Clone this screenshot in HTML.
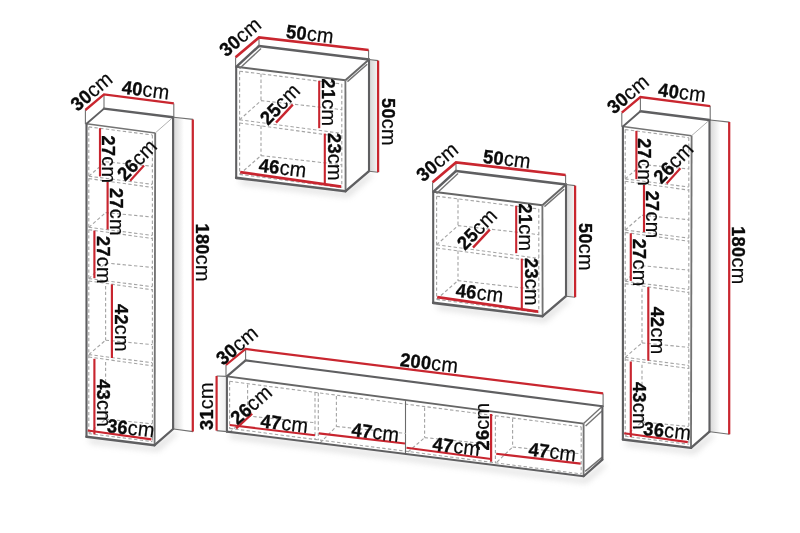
<!DOCTYPE html>
<html lang="en">
<head>
<meta charset="utf-8">
<title>Dimensions</title>
<style>
html,body{margin:0;padding:0;background:#fff;}
body{width:800px;height:533px;overflow:hidden;}
svg{display:block;will-change:transform;}
svg path{fill:none;}
.dk{stroke:#5f5f61;stroke-linecap:round;}
.md{stroke:#747474;stroke-width:1.4;}
.tn{stroke:#707070;stroke-width:1.1;}
.dv{stroke:#6a6a6a;stroke-width:1.1;}
.m2{stroke:#737373;stroke-width:1.85;}
.m3{stroke:#666666;stroke-width:1.9;}
.tn2{stroke:#a8a8a8;stroke-width:0.9;}
.ds{stroke:#a4a4a4;stroke-width:1.1;stroke-dasharray:3.4 2.3;}
.rd{stroke:#c9262f;stroke-linecap:butt;}
.ri{stroke:#c8252f;}
text{font-family:"Liberation Sans","DejaVu Sans",sans-serif;fill:#0a0a0a;letter-spacing:0.3px;}
.b{font-weight:bold;stroke:#0a0a0a;stroke-width:0.35;}
.r{font-weight:normal;stroke:#0a0a0a;stroke-width:0.2;}
</style>
</head>
<body>
<svg width="800" height="533" viewBox="0 0 800 533">
<rect width="800" height="533" fill="#ffffff"/>
<defs>
<filter id="blur" x="-20%" y="-50%" width="140%" height="200%"><feGaussianBlur stdDeviation="3"/></filter>
<linearGradient id="gsA" gradientUnits="userSpaceOnUse" x1="174.0" y1="0" x2="184.0" y2="0"><stop offset="0" stop-color="#d9d9d9"/><stop offset="1" stop-color="#ffffff"/></linearGradient>
<linearGradient id="gsB" gradientUnits="userSpaceOnUse" x1="710.4" y1="0" x2="720.4" y2="0"><stop offset="0" stop-color="#d9d9d9"/><stop offset="1" stop-color="#ffffff"/></linearGradient>
<linearGradient id="gpA" gradientUnits="userSpaceOnUse" x1="155.0" y1="0" x2="174.0" y2="0"><stop offset="0" stop-color="#ffffff"/><stop offset="1" stop-color="#ffffff"/></linearGradient>
<linearGradient id="gpB" gradientUnits="userSpaceOnUse" x1="691.4" y1="0" x2="710.4" y2="0"><stop offset="0" stop-color="#ffffff"/><stop offset="1" stop-color="#ffffff"/></linearGradient>
<linearGradient id="gqA" gradientUnits="userSpaceOnUse" x1="369.0" y1="0" x2="378.0" y2="0"><stop offset="0" stop-color="#d6d6d6"/><stop offset="1" stop-color="#f4f4f4"/></linearGradient>
<linearGradient id="gqB" gradientUnits="userSpaceOnUse" x1="566.0" y1="0" x2="575.0" y2="0"><stop offset="0" stop-color="#d6d6d6"/><stop offset="1" stop-color="#f4f4f4"/></linearGradient>
<linearGradient id="gt" gradientUnits="userSpaceOnUse" x1="216.6" y1="0" x2="227.0" y2="0"><stop offset="0" stop-color="#ffffff"/><stop offset="1" stop-color="#eeeeee"/></linearGradient>
</defs>
<g>
<polygon fill="url(#gsA)" points="173.60,117.30 193.00,119.40 193.00,431.60 173.60,429.00"/>
<polygon fill="#9a9a9a" opacity="0.34" filter="url(#blur)" points="88.00,438.00 154.60,446.50 174.00,431.00 178.00,433.00 158.00,451.00 90.00,443.00"/>
<polygon fill="#fff" points="86.50,123.80 104.00,108.60 173.10,117.30 173.10,429.00 154.60,445.20 86.50,436.80"/>
<polygon fill="url(#gpA)" points="155.20,133.00 173.10,117.30 173.10,429.00 154.60,445.20"/>
<path class="ds" d="M88.80 126.90 L152.40 135.00"/>
<path class="ds" d="M88.80 126.90 L88.80 433.40"/>
<path class="ds" d="M152.40 135.00 L152.40 441.40"/>
<path class="ds" d="M88.80 433.60 L152.40 441.60"/>
<path class="ds" d="M88.80 176.20 L152.40 184.34"/>
<path class="ds" d="M88.80 178.60 L152.40 187.44"/>
<path class="ds" d="M105.60 161.80 L152.40 166.25"/>
<path class="ds" d="M88.80 176.20 L105.60 161.80"/>
<path class="ds" d="M88.80 227.30 L152.40 235.44"/>
<path class="ds" d="M88.80 229.70 L152.40 238.54"/>
<path class="ds" d="M105.60 212.60 L152.40 217.05"/>
<path class="ds" d="M88.80 227.30 L105.60 212.60"/>
<path class="ds" d="M88.80 278.60 L152.40 286.74"/>
<path class="ds" d="M88.80 281.00 L152.40 289.84"/>
<path class="ds" d="M105.60 263.00 L152.40 267.45"/>
<path class="ds" d="M88.80 278.60 L105.60 263.00"/>
<path class="ds" d="M88.80 354.60 L152.40 362.74"/>
<path class="ds" d="M88.80 357.00 L152.40 365.84"/>
<path class="ds" d="M105.60 340.20 L152.40 344.65"/>
<path class="ds" d="M88.80 354.60 L105.60 340.20"/>
<path class="ds" d="M105.60 419.20 L152.40 423.80"/>
<path class="ds" d="M88.80 433.40 L105.60 419.20"/>
<path class="ds" d="M105.60 286.00 L105.60 340.00"/>
<path class="ds" d="M105.60 362.00 L105.60 419.00"/>
<path class="md" d="M86.50 123.80 L155.20 133.00"/>
<path class="tn2" d="M155.20 133.00 L173.10 117.30"/>
<path class="m2" d="M155.20 133.00 L154.60 445.20"/>
<path class="dk" stroke-width="2.15" d="M86.50 123.80 L86.50 436.80"/>
<path class="dk" stroke-width="2.40" d="M86.50 436.80 L154.60 445.20"/>
<path class="dk" stroke-width="2.29" d="M154.60 445.20 L173.10 429.00"/>
<path class="dk" stroke-width="1.90" d="M86.50 123.80 L104.00 108.60"/>
<path class="dk" stroke-width="2.40" d="M104.00 108.60 L173.10 117.30"/>
<path class="dk" stroke-width="2.15" d="M173.10 117.30 L173.10 429.00"/>
<path class="tn" d="M85.40 110.00 L85.40 124.00"/>
<path class="tn" d="M104.00 94.40 L104.00 108.60"/>
<path class="tn" d="M173.80 103.40 L173.80 117.30"/>
<path class="tn" d="M173.60 117.30 L193.10 119.40"/>
<path class="tn" d="M173.60 429.00 L193.10 431.60"/>
<path class="rd" stroke-width="2.40" stroke-linejoin="miter" d="M85.40 110.00 L104.00 94.40 L173.80 103.40"/>
<path class="rd" stroke-width="2.25" d="M192.80 119.40 L192.80 431.60"/>
<path class="ri" stroke-width="2.15" d="M100.00 128.20 L100.00 176.40"/>
<path class="ri" stroke-width="2.13" d="M130.20 180.80 L144.00 165.50"/>
<path class="ri" stroke-width="2.15" d="M107.60 182.00 L107.60 229.40"/>
<path class="ri" stroke-width="2.15" d="M94.40 230.60 L94.40 278.20"/>
<path class="ri" stroke-width="2.15" d="M111.90 284.40 L111.90 358.00"/>
<path class="ri" stroke-width="2.15" d="M94.40 358.80 L94.40 434.40"/>
<path class="ri" stroke-width="2.10" d="M87.80 430.50 L151.40 439.40"/>
<text transform="translate(77.50 112.00) rotate(-40.00) scale(1 1.050)" font-size="18.20"><tspan class="b">30</tspan><tspan class="r" font-size="19.84">cm</tspan></text>
<text transform="translate(121.20 93.40) rotate(7.40) scale(1 1.050)" font-size="18.20"><tspan class="b">40</tspan><tspan class="r" font-size="19.84">cm</tspan></text>
<text transform="translate(195.80 223.50) rotate(90.00) scale(1 1.050)" font-size="18.20"><tspan class="b">180</tspan><tspan class="r" font-size="19.84">cm</tspan></text>
<text transform="translate(102.00 135.50) rotate(90.00) scale(1 1.050)" font-size="18.20"><tspan class="b">27</tspan><tspan class="r" font-size="19.84">cm</tspan></text>
<text transform="translate(125.20 181.80) rotate(-46.00) scale(1 1.050)" font-size="18.20"><tspan class="b">26</tspan><tspan class="r" font-size="19.84">cm</tspan></text>
<text transform="translate(110.00 188.00) rotate(90.00) scale(1 1.050)" font-size="18.20"><tspan class="b">27</tspan><tspan class="r" font-size="19.84">cm</tspan></text>
<text transform="translate(96.50 236.00) rotate(90.00) scale(1 1.050)" font-size="18.20"><tspan class="b">27</tspan><tspan class="r" font-size="19.84">cm</tspan></text>
<text transform="translate(114.50 304.00) rotate(90.00) scale(1 1.050)" font-size="18.20"><tspan class="b">42</tspan><tspan class="r" font-size="19.84">cm</tspan></text>
<text transform="translate(96.50 379.20) rotate(90.00) scale(1 1.050)" font-size="18.20"><tspan class="b">43</tspan><tspan class="r" font-size="19.84">cm</tspan></text>
<text transform="translate(106.40 432.00) rotate(6.60) scale(1 1.050)" font-size="18.20"><tspan class="b">36</tspan><tspan class="r" font-size="19.84">cm</tspan></text>
<polygon fill="url(#gsB)" points="710.00,120.00 729.40,122.10 729.40,434.30 710.00,431.70"/>
<polygon fill="#9a9a9a" opacity="0.34" filter="url(#blur)" points="624.40,440.70 691.00,449.20 710.40,433.70 714.40,435.70 694.40,453.70 626.40,445.70"/>
<polygon fill="#fff" points="622.90,126.50 640.40,111.30 709.50,120.00 709.50,431.70 691.00,447.90 622.90,439.50"/>
<polygon fill="url(#gpB)" points="691.60,135.70 709.50,120.00 709.50,431.70 691.00,447.90"/>
<path class="ds" d="M625.20 129.60 L688.80 137.70"/>
<path class="ds" d="M625.20 129.60 L625.20 436.10"/>
<path class="ds" d="M688.80 137.70 L688.80 444.10"/>
<path class="ds" d="M625.20 436.30 L688.80 444.30"/>
<path class="ds" d="M625.20 178.90 L688.80 187.04"/>
<path class="ds" d="M625.20 181.30 L688.80 190.14"/>
<path class="ds" d="M642.00 164.50 L688.80 168.95"/>
<path class="ds" d="M625.20 178.90 L642.00 164.50"/>
<path class="ds" d="M625.20 230.00 L688.80 238.14"/>
<path class="ds" d="M625.20 232.40 L688.80 241.24"/>
<path class="ds" d="M642.00 215.30 L688.80 219.75"/>
<path class="ds" d="M625.20 230.00 L642.00 215.30"/>
<path class="ds" d="M625.20 281.30 L688.80 289.44"/>
<path class="ds" d="M625.20 283.70 L688.80 292.54"/>
<path class="ds" d="M642.00 265.70 L688.80 270.15"/>
<path class="ds" d="M625.20 281.30 L642.00 265.70"/>
<path class="ds" d="M625.20 357.30 L688.80 365.44"/>
<path class="ds" d="M625.20 359.70 L688.80 368.54"/>
<path class="ds" d="M642.00 342.90 L688.80 347.35"/>
<path class="ds" d="M625.20 357.30 L642.00 342.90"/>
<path class="ds" d="M642.00 421.90 L688.80 426.50"/>
<path class="ds" d="M625.20 436.10 L642.00 421.90"/>
<path class="ds" d="M642.00 288.70 L642.00 342.70"/>
<path class="ds" d="M642.00 364.70 L642.00 421.70"/>
<path class="md" d="M622.90 126.50 L691.60 135.70"/>
<path class="tn2" d="M691.60 135.70 L709.50 120.00"/>
<path class="m2" d="M691.60 135.70 L691.00 447.90"/>
<path class="dk" stroke-width="2.15" d="M622.90 126.50 L622.90 439.50"/>
<path class="dk" stroke-width="2.40" d="M622.90 439.50 L691.00 447.90"/>
<path class="dk" stroke-width="2.29" d="M691.00 447.90 L709.50 431.70"/>
<path class="dk" stroke-width="1.90" d="M622.90 126.50 L640.40 111.30"/>
<path class="dk" stroke-width="2.40" d="M640.40 111.30 L709.50 120.00"/>
<path class="dk" stroke-width="2.15" d="M709.50 120.00 L709.50 431.70"/>
<path class="tn" d="M621.80 112.70 L621.80 126.70"/>
<path class="tn" d="M640.40 97.10 L640.40 111.30"/>
<path class="tn" d="M710.20 106.10 L710.20 120.00"/>
<path class="tn" d="M710.00 120.00 L729.50 122.10"/>
<path class="tn" d="M710.00 431.70 L729.50 434.30"/>
<path class="rd" stroke-width="2.40" stroke-linejoin="miter" d="M621.80 112.70 L640.40 97.10 L710.20 106.10"/>
<path class="rd" stroke-width="2.25" d="M729.20 122.10 L729.20 434.30"/>
<path class="ri" stroke-width="2.15" d="M636.40 130.90 L636.40 179.10"/>
<path class="ri" stroke-width="2.13" d="M666.60 183.50 L680.40 168.20"/>
<path class="ri" stroke-width="2.15" d="M644.00 184.70 L644.00 232.10"/>
<path class="ri" stroke-width="2.15" d="M630.80 233.30 L630.80 280.90"/>
<path class="ri" stroke-width="2.15" d="M648.30 287.10 L648.30 360.70"/>
<path class="ri" stroke-width="2.15" d="M630.80 361.50 L630.80 437.10"/>
<path class="ri" stroke-width="2.10" d="M624.20 433.20 L687.80 442.10"/>
<text transform="translate(613.90 114.70) rotate(-40.00) scale(1 1.050)" font-size="18.20"><tspan class="b">30</tspan><tspan class="r" font-size="19.84">cm</tspan></text>
<text transform="translate(657.60 96.10) rotate(7.40) scale(1 1.050)" font-size="18.20"><tspan class="b">40</tspan><tspan class="r" font-size="19.84">cm</tspan></text>
<text transform="translate(732.20 226.20) rotate(90.00) scale(1 1.050)" font-size="18.20"><tspan class="b">180</tspan><tspan class="r" font-size="19.84">cm</tspan></text>
<text transform="translate(638.40 138.20) rotate(90.00) scale(1 1.050)" font-size="18.20"><tspan class="b">27</tspan><tspan class="r" font-size="19.84">cm</tspan></text>
<text transform="translate(661.60 184.50) rotate(-46.00) scale(1 1.050)" font-size="18.20"><tspan class="b">26</tspan><tspan class="r" font-size="19.84">cm</tspan></text>
<text transform="translate(646.40 190.70) rotate(90.00) scale(1 1.050)" font-size="18.20"><tspan class="b">27</tspan><tspan class="r" font-size="19.84">cm</tspan></text>
<text transform="translate(632.90 238.70) rotate(90.00) scale(1 1.050)" font-size="18.20"><tspan class="b">27</tspan><tspan class="r" font-size="19.84">cm</tspan></text>
<text transform="translate(650.90 306.70) rotate(90.00) scale(1 1.050)" font-size="18.20"><tspan class="b">42</tspan><tspan class="r" font-size="19.84">cm</tspan></text>
<text transform="translate(632.90 381.90) rotate(90.00) scale(1 1.050)" font-size="18.20"><tspan class="b">43</tspan><tspan class="r" font-size="19.84">cm</tspan></text>
<text transform="translate(642.80 434.70) rotate(6.60) scale(1 1.050)" font-size="18.20"><tspan class="b">36</tspan><tspan class="r" font-size="19.84">cm</tspan></text>
<polygon fill="url(#gqA)" points="368.60,59.50 377.50,60.60 377.50,172.00 368.60,171.20"/>
<polygon fill="#9a9a9a" opacity="0.34" filter="url(#blur)" points="239.00,179.00 345.00,192.00 369.00,173.00 373.00,175.00 348.00,197.00 241.00,184.00"/>
<polygon fill="#fff" points="236.20,66.80 259.00,46.00 369.00,59.50 369.00,171.20 345.60,191.20 236.20,177.90"/>
<path class="ds" d="M239.60 71.20 L341.80 84.00"/>
<path class="ds" d="M239.60 71.20 L239.60 174.20"/>
<path class="ds" d="M341.80 84.00 L341.80 187.40"/>
<path class="ds" d="M239.60 174.40 L341.80 187.60"/>
<path class="ds" d="M261.00 73.80 L261.00 100.60"/>
<path class="ds" d="M261.00 125.60 L261.00 156.00"/>
<path class="ds" d="M239.60 119.80 L341.80 133.40"/>
<path class="ds" d="M239.60 123.00 L341.80 136.80"/>
<path class="ds" d="M261.00 100.60 L341.80 109.60"/>
<path class="ds" d="M239.60 119.80 L261.00 100.60"/>
<path class="ds" d="M261.00 155.60 L341.80 164.80"/>
<path class="ds" d="M239.60 174.20 L261.00 155.60"/>
<path class="m3" d="M236.20 66.80 L345.40 80.20"/>
<path class="md" d="M239.50 68.60 L261.00 48.60"/>
<path class="m3" d="M345.40 80.20 L369.00 59.50"/>
<path class="md" d="M347.40 81.60 L367.20 64.20"/>
<path class="m2" d="M345.40 80.20 L345.60 191.20"/>
<path class="dk" stroke-width="2.10" d="M236.20 66.80 L236.20 177.90"/>
<path class="dk" stroke-width="2.59" d="M236.20 177.90 L345.60 191.20"/>
<path class="dk" stroke-width="2.40" d="M345.60 191.20 L369.00 171.20"/>
<path class="dk" stroke-width="2.39" d="M236.20 66.80 L259.00 46.00"/>
<path class="dk" stroke-width="2.59" d="M259.00 46.00 L369.00 59.50"/>
<path class="dk" stroke-width="2.10" d="M369.00 59.50 L369.00 171.20"/>
<path class="tn" d="M235.60 57.20 L235.60 66.60"/>
<path class="tn" d="M259.00 37.50 L259.00 46.00"/>
<path class="tn" d="M368.60 50.00 L368.60 59.50"/>
<path class="tn" d="M369.00 59.50 L378.10 60.60"/>
<path class="tn" d="M369.00 171.20 L378.10 172.20"/>
<path class="rd" stroke-width="2.70" stroke-linejoin="miter" d="M235.60 57.20 L259.00 37.50 L368.60 50.00"/>
<path class="rd" stroke-width="2.25" d="M378.10 60.60 L378.10 172.20"/>
<path class="ri" stroke-width="2.10" d="M319.20 80.80 L319.20 128.20"/>
<path class="ri" stroke-width="2.10" d="M324.80 133.60 L324.80 184.20"/>
<path class="ri" stroke-width="2.40" d="M276.00 122.60 L292.80 104.60"/>
<path class="ri" stroke-width="2.69" d="M240.20 172.20 L341.20 186.60"/>
<text transform="translate(226.20 57.40) rotate(-40.00) scale(1 1.050)" font-size="18.20"><tspan class="b">30</tspan><tspan class="r" font-size="19.84">cm</tspan></text>
<text transform="translate(285.50 37.80) rotate(7.00) scale(1 1.050)" font-size="18.20"><tspan class="b">50</tspan><tspan class="r" font-size="19.84">cm</tspan></text>
<text transform="translate(381.80 98.00) rotate(90.00) scale(1 1.050)" font-size="18.20"><tspan class="b">50</tspan><tspan class="r" font-size="19.84">cm</tspan></text>
<text transform="translate(322.00 78.50) rotate(90.00) scale(1 1.050)" font-size="18.20"><tspan class="b">21</tspan><tspan class="r" font-size="19.84">cm</tspan></text>
<text transform="translate(327.80 133.00) rotate(90.00) scale(1 1.050)" font-size="18.20"><tspan class="b">23</tspan><tspan class="r" font-size="19.84">cm</tspan></text>
<text transform="translate(268.00 126.00) rotate(-45.50) scale(1 1.050)" font-size="18.20"><tspan class="b">25</tspan><tspan class="r" font-size="19.84">cm</tspan></text>
<text transform="translate(258.20 171.60) rotate(7.00) scale(1 1.050)" font-size="18.20"><tspan class="b">46</tspan><tspan class="r" font-size="19.84">cm</tspan></text>
<polygon fill="url(#gqB)" points="565.60,184.50 574.50,185.60 574.50,297.00 565.60,296.20"/>
<polygon fill="#9a9a9a" opacity="0.34" filter="url(#blur)" points="436.00,304.00 542.00,317.00 566.00,298.00 570.00,300.00 545.00,322.00 438.00,309.00"/>
<polygon fill="#fff" points="433.20,191.80 456.00,171.00 566.00,184.50 566.00,296.20 542.60,316.20 433.20,302.90"/>
<path class="ds" d="M436.60 196.20 L538.80 209.00"/>
<path class="ds" d="M436.60 196.20 L436.60 299.20"/>
<path class="ds" d="M538.80 209.00 L538.80 312.40"/>
<path class="ds" d="M436.60 299.40 L538.80 312.60"/>
<path class="ds" d="M458.00 198.80 L458.00 225.60"/>
<path class="ds" d="M458.00 250.60 L458.00 281.00"/>
<path class="ds" d="M436.60 244.80 L538.80 258.40"/>
<path class="ds" d="M436.60 248.00 L538.80 261.80"/>
<path class="ds" d="M458.00 225.60 L538.80 234.60"/>
<path class="ds" d="M436.60 244.80 L458.00 225.60"/>
<path class="ds" d="M458.00 280.60 L538.80 289.80"/>
<path class="ds" d="M436.60 299.20 L458.00 280.60"/>
<path class="m3" d="M433.20 191.80 L542.40 205.20"/>
<path class="md" d="M436.50 193.60 L458.00 173.60"/>
<path class="m3" d="M542.40 205.20 L566.00 184.50"/>
<path class="md" d="M544.40 206.60 L564.20 189.20"/>
<path class="m2" d="M542.40 205.20 L542.60 316.20"/>
<path class="dk" stroke-width="2.10" d="M433.20 191.80 L433.20 302.90"/>
<path class="dk" stroke-width="2.59" d="M433.20 302.90 L542.60 316.20"/>
<path class="dk" stroke-width="2.40" d="M542.60 316.20 L566.00 296.20"/>
<path class="dk" stroke-width="2.39" d="M433.20 191.80 L456.00 171.00"/>
<path class="dk" stroke-width="2.59" d="M456.00 171.00 L566.00 184.50"/>
<path class="dk" stroke-width="2.10" d="M566.00 184.50 L566.00 296.20"/>
<path class="tn" d="M432.60 182.20 L432.60 191.60"/>
<path class="tn" d="M456.00 162.50 L456.00 171.00"/>
<path class="tn" d="M565.60 175.00 L565.60 184.50"/>
<path class="tn" d="M566.00 184.50 L575.10 185.60"/>
<path class="tn" d="M566.00 296.20 L575.10 297.20"/>
<path class="rd" stroke-width="2.70" stroke-linejoin="miter" d="M432.60 182.20 L456.00 162.50 L565.60 175.00"/>
<path class="rd" stroke-width="2.25" d="M575.10 185.60 L575.10 297.20"/>
<path class="ri" stroke-width="2.10" d="M516.20 205.80 L516.20 253.20"/>
<path class="ri" stroke-width="2.10" d="M521.80 258.60 L521.80 309.20"/>
<path class="ri" stroke-width="2.40" d="M473.00 247.60 L489.80 229.60"/>
<path class="ri" stroke-width="2.69" d="M437.20 297.20 L538.20 311.60"/>
<text transform="translate(423.20 182.40) rotate(-40.00) scale(1 1.050)" font-size="18.20"><tspan class="b">30</tspan><tspan class="r" font-size="19.84">cm</tspan></text>
<text transform="translate(482.50 162.80) rotate(7.00) scale(1 1.050)" font-size="18.20"><tspan class="b">50</tspan><tspan class="r" font-size="19.84">cm</tspan></text>
<text transform="translate(578.80 223.00) rotate(90.00) scale(1 1.050)" font-size="18.20"><tspan class="b">50</tspan><tspan class="r" font-size="19.84">cm</tspan></text>
<text transform="translate(519.00 203.50) rotate(90.00) scale(1 1.050)" font-size="18.20"><tspan class="b">21</tspan><tspan class="r" font-size="19.84">cm</tspan></text>
<text transform="translate(524.80 258.00) rotate(90.00) scale(1 1.050)" font-size="18.20"><tspan class="b">23</tspan><tspan class="r" font-size="19.84">cm</tspan></text>
<text transform="translate(465.00 251.00) rotate(-45.50) scale(1 1.050)" font-size="18.20"><tspan class="b">25</tspan><tspan class="r" font-size="19.84">cm</tspan></text>
<text transform="translate(455.20 296.60) rotate(7.00) scale(1 1.050)" font-size="18.20"><tspan class="b">46</tspan><tspan class="r" font-size="19.84">cm</tspan></text>
<polygon fill="url(#gt)" points="216.60,376.00 226.90,376.40 226.90,431.60 216.60,430.60"/>
<polygon fill="#9a9a9a" opacity="0.34" filter="url(#blur)" points="229.00,433.00 583.60,478.50 603.00,463.00 606.00,466.00 586.00,483.00 230.00,438.00"/>
<polygon fill="#fff" points="226.90,376.40 245.60,360.40 602.40,406.20 602.40,459.60 583.60,476.20 226.90,431.60"/>
<path class="ds" d="M229.60 381.30 L581.20 426.83"/>
<path class="ds" d="M229.60 381.30 L229.60 428.80"/>
<path class="ds" d="M581.20 426.83 L581.20 474.33"/>
<path class="ds" d="M229.60 428.40 L581.20 473.93"/>
<path class="ds" d="M315.00 392.36 L315.00 439.86"/>
<path class="ds" d="M318.30 392.79 L318.30 440.29"/>
<path class="ds" d="M491.00 415.15 L491.00 462.65"/>
<path class="ds" d="M495.40 415.72 L495.40 463.22"/>
<path class="dv" d="M405.50 401.08 L405.50 454.58"/>
<path class="ds" d="M247.60 384.40 L247.60 416.00"/>
<path class="ds" d="M247.60 416.00 L315.60 422.80"/>
<path class="ds" d="M336.40 396.00 L336.40 426.50"/>
<path class="ds" d="M336.40 426.50 L406.00 433.46"/>
<path class="ds" d="M424.60 407.60 L424.60 437.60"/>
<path class="ds" d="M424.60 437.60 L491.00 444.24"/>
<path class="ds" d="M512.60 418.60 L512.60 447.00"/>
<path class="ds" d="M512.60 447.00 L581.20 453.86"/>
<path class="ds" d="M229.60 432.50 L247.60 416.00"/>
<path class="ds" d="M320.00 443.00 L336.40 426.50"/>
<path class="ds" d="M408.00 452.00 L424.60 437.60"/>
<path class="ds" d="M497.00 462.00 L512.60 447.00"/>
<path class="m3" d="M226.90 376.40 L583.60 423.60"/>
<path class="md" d="M583.60 423.60 L602.40 406.20"/>
<path class="md" d="M585.60 426.00 L602.00 411.00"/>
<path class="md" d="M585.20 471.40 L602.00 457.40"/>
<path class="m2" d="M583.60 423.60 L583.60 476.20"/>
<path class="dk" stroke-width="2.10" d="M226.90 376.40 L226.90 431.60"/>
<path class="dk" stroke-width="2.15" d="M226.90 431.60 L583.60 476.20"/>
<path class="dk" stroke-width="2.13" d="M583.60 476.20 L602.40 459.60"/>
<path class="dk" stroke-width="2.13" d="M226.90 376.40 L245.60 360.40"/>
<path class="dk" stroke-width="2.15" d="M245.60 360.40 L602.40 406.20"/>
<path class="dk" stroke-width="2.10" d="M602.40 406.20 L602.40 459.60"/>
<path class="tn" d="M226.00 365.00 L226.00 376.40"/>
<path class="tn" d="M245.60 349.00 L245.60 360.40"/>
<path class="tn" d="M603.10 393.40 L603.10 407.00"/>
<path class="tn" d="M216.60 376.00 L226.90 376.40"/>
<path class="tn" d="M216.60 430.60 L226.90 431.60"/>
<path class="rd" stroke-width="2.20" stroke-linejoin="miter" d="M226.00 365.00 L245.60 349.00 L603.10 393.40"/>
<path class="rd" stroke-width="2.20" d="M216.60 376.00 L216.60 430.60"/>
<path class="ri" stroke-width="2.10" d="M229.70 425.00 L315.00 435.30"/>
<path class="ri" stroke-width="2.15" d="M236.20 428.40 L252.20 413.80"/>
<path class="ri" stroke-width="2.10" d="M318.80 433.40 L405.00 443.50"/>
<path class="ri" stroke-width="2.10" d="M406.50 447.80 L491.00 459.00"/>
<path class="ri" stroke-width="2.20" d="M491.10 414.00 L491.10 461.60"/>
<path class="ri" stroke-width="2.10" d="M496.20 453.80 L580.60 463.60"/>
<text transform="translate(223.00 366.00) rotate(-40.00) scale(1 1.050)" font-size="18.20"><tspan class="b">30</tspan><tspan class="r" font-size="19.84">cm</tspan></text>
<text transform="translate(399.50 366.00) rotate(7.00) scale(1 1.050)" font-size="18.20"><tspan class="b">200</tspan><tspan class="r" font-size="19.84">cm</tspan></text>
<text transform="translate(212.50 430.00) rotate(-90.00) scale(1 1.050)" font-size="18.20"><tspan class="b">31</tspan><tspan class="r" font-size="19.84">cm</tspan></text>
<text transform="translate(237.60 425.60) rotate(-41.00) scale(1 1.050)" font-size="18.20"><tspan class="b">26</tspan><tspan class="r" font-size="19.84">cm</tspan></text>
<text transform="translate(260.00 427.20) rotate(7.20) scale(1 1.050)" font-size="18.20"><tspan class="b">47</tspan><tspan class="r" font-size="19.84">cm</tspan></text>
<text transform="translate(351.00 436.00) rotate(7.20) scale(1 1.050)" font-size="18.20"><tspan class="b">47</tspan><tspan class="r" font-size="19.84">cm</tspan></text>
<text transform="translate(432.00 450.20) rotate(7.20) scale(1 1.050)" font-size="18.20"><tspan class="b">47</tspan><tspan class="r" font-size="19.84">cm</tspan></text>
<text transform="translate(489.00 450.50) rotate(-90.00) scale(1 1.050)" font-size="18.20"><tspan class="b">26</tspan><tspan class="r" font-size="19.84">cm</tspan></text>
<text transform="translate(528.00 455.40) rotate(7.50) scale(1 1.050)" font-size="18.20"><tspan class="b">47</tspan><tspan class="r" font-size="19.84">cm</tspan></text>
</g>
</svg>
</body>
</html>
